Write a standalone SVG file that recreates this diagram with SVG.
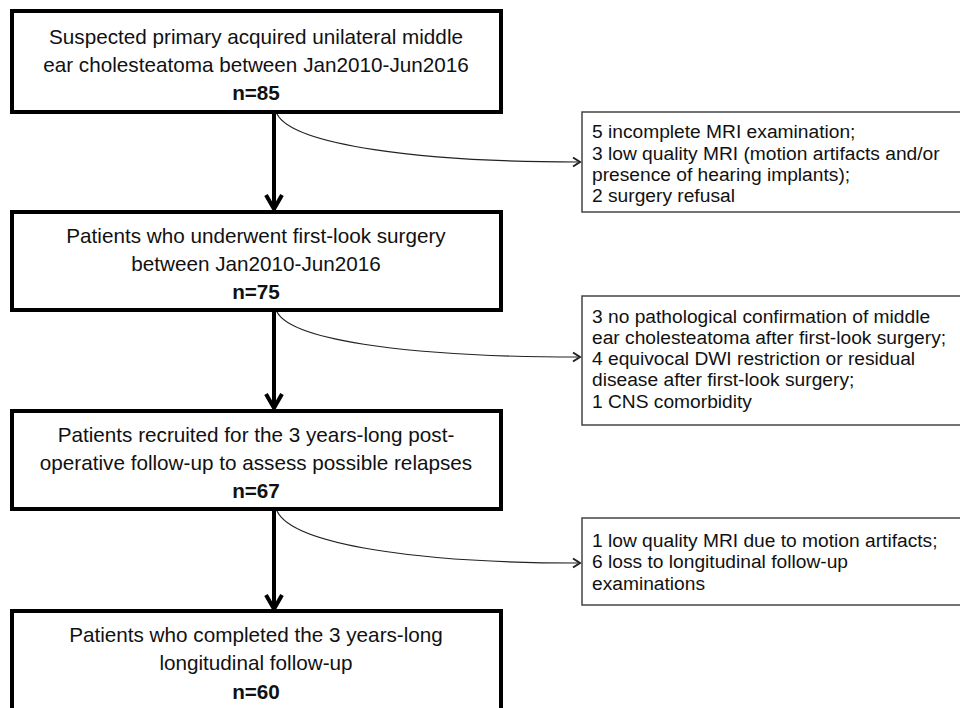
<svg xmlns="http://www.w3.org/2000/svg" width="960" height="708" viewBox="0 0 960 708">
<defs>
<style>
.main{fill:#fff;stroke:#000;stroke-width:4}
.side{fill:#fff;stroke:#444;stroke-width:1.5}
.mt{font-family:"Liberation Sans",Arial,sans-serif;font-size:20.7px;fill:#111;text-anchor:middle}
.b{font-weight:bold}
.st{font-family:"Liberation Sans",Arial,sans-serif;font-size:19.2px;fill:#111}
.vline{stroke:#000;stroke-width:4;fill:none}
.curve{stroke:#222;stroke-width:1.2;fill:none}
.head{fill:none;stroke:#222;stroke-width:2}
</style>
</defs>
<rect width="960" height="708" fill="#fff"/>
<g id="connectors">
<g id="c1">
<line class="vline" x1="274" y1="112" x2="274" y2="209"/>
<path class="vline" d="M266,195 L274,209 L282,195"/>
<path class="curve" d="M277,114 C293,145 420,162 578,162"/>
<path class="head" d="M573,157.5 L580,162 L573,166.5"/>
</g>
<g id="c2">
<line class="vline" x1="274" y1="310" x2="274" y2="408"/>
<path class="vline" d="M266,394 L274,408 L282,394"/>
<path class="curve" d="M277,312 C293,342 420,357 578,357"/>
<path class="head" d="M573,352.5 L580,357 L573,361.5"/>
</g>
<g id="c3">
<line class="vline" x1="274" y1="509" x2="274" y2="609"/>
<path class="vline" d="M266,595 L274,609 L282,595"/>
<path class="curve" d="M277,511 C293,545 420,563 578,563"/>
<path class="head" d="M573,558.5 L580,563 L573,567.5"/>
</g>
</g>
<g id="box1">
<rect class="main" x="12" y="11" width="489" height="101"/>
<text class="mt" x="256" y="44">Suspected primary acquired unilateral middle</text>
<text class="mt" x="256" y="72">ear cholesteatoma between Jan2010-Jun2016</text>
<text class="mt b" x="256" y="100">n=85</text>
</g>
<g id="box2">
<rect class="main" x="12" y="212" width="489" height="98"/>
<text class="mt" x="256" y="243">Patients who underwent first-look surgery</text>
<text class="mt" x="256" y="271">between Jan2010-Jun2016</text>
<text class="mt b" x="256" y="299">n=75</text>
</g>
<g id="box3">
<rect class="main" x="12" y="411" width="489" height="98"/>
<text class="mt" x="256" y="442">Patients recruited for the 3 years-long post-</text>
<text class="mt" x="256" y="470">operative follow-up to assess possible relapses</text>
<text class="mt b" x="256" y="498">n=67</text>
</g>
<g id="box4">
<rect class="main" x="12" y="611" width="489" height="110"/>
<text class="mt" x="256" y="642">Patients who completed the 3 years-long</text>
<text class="mt" x="256" y="670">longitudinal follow-up</text>
<text class="mt b" x="256" y="699">n=60</text>
</g>
<g id="exclA">
<rect class="side" x="582" y="112" width="390" height="100"/>
<text class="st" x="592" y="138">5 incomplete MRI examination;</text>
<text class="st" x="592" y="160">3 low quality MRI (motion artifacts and/or</text>
<text class="st" x="592" y="181">presence of hearing implants);</text>
<text class="st" x="592" y="202">2 surgery refusal</text>
</g>
<g id="exclB">
<rect class="side" x="582" y="296" width="390" height="129"/>
<text class="st" x="592" y="323">3 no pathological confirmation of middle</text>
<text class="st" x="592" y="344">ear cholesteatoma after first-look surgery;</text>
<text class="st" x="592" y="365">4 equivocal DWI restriction or residual</text>
<text class="st" x="592" y="386">disease after first-look surgery;</text>
<text class="st" x="592" y="408">1 CNS comorbidity</text>
</g>
<g id="exclC">
<rect class="side" x="582" y="518" width="390" height="87"/>
<text class="st" x="592" y="547">1 low quality MRI due to motion artifacts;</text>
<text class="st" x="592" y="568">6 loss to longitudinal follow-up</text>
<text class="st" x="592" y="590">examinations</text>
</g>
</svg>
